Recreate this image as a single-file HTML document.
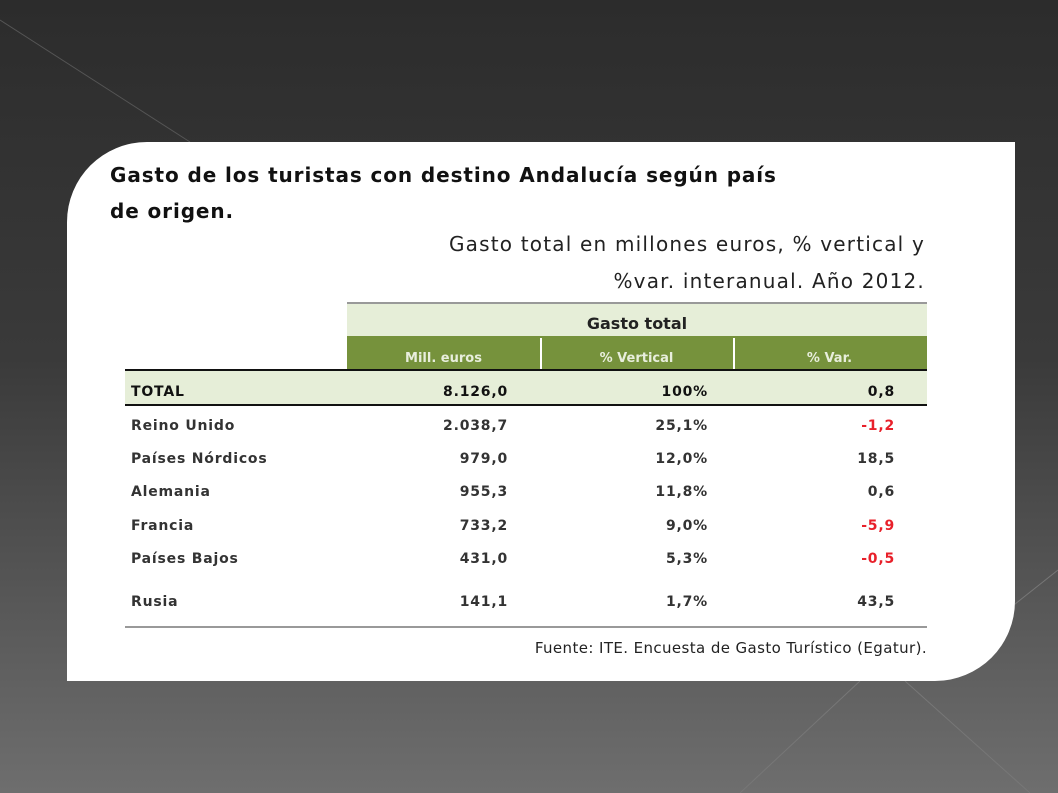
<!DOCTYPE html>
<html><head><meta charset="utf-8"><style>
html,body{margin:0;padding:0}
body{width:1058px;height:793px;overflow:hidden;position:relative;background:linear-gradient(180deg,#2c2c2c 0%,#3a3a3a 45%,#6e6e6e 100%);font-family:"DejaVu Sans","Liberation Sans",sans-serif}
#card{position:absolute;left:67px;top:142px;width:948px;height:539px;background:#fff;border-radius:80px 0 80px 0}
.t{position:absolute;white-space:nowrap}
.h1{font-weight:bold;font-size:20px;color:#111;letter-spacing:0.9px}
.sub{font-size:20px;color:#222;letter-spacing:1.2px;right:0}
.c{position:absolute;font-size:14px;font-weight:bold;color:#333;letter-spacing:0.8px}
</style></head><body>
<svg width="1058" height="793" style="position:absolute;left:0;top:0">
<line x1="0" y1="20" x2="190" y2="142" stroke="#555" stroke-width="1"/>
<line x1="1058" y1="570" x2="1005" y2="612" stroke="#777" stroke-width="1"/>
<line x1="905" y1="681" x2="1030" y2="793" stroke="#777" stroke-width="1"/>
<line x1="860" y1="681" x2="740" y2="793" stroke="#777" stroke-width="1"/>
</svg>
<div id="card"></div>
<div class="t h1" style="left:110px;top:163px">Gasto de los turistas con destino Andalucía según país</div>
<div class="t h1" style="left:110px;top:199px">de origen.</div>
<div class="t sub" style="right:133px;top:232px">Gasto total en millones euros, % vertical y</div>
<div class="t sub" style="right:133px;top:269px">%var. interanual. Año 2012.</div>
<div style="position:absolute;left:347px;top:302px;width:580px;height:34px;background:#e6eed8;border-top:2px solid #999"></div>
<div class="t" style="left:347px;width:580px;top:314px;text-align:center;font-weight:bold;font-size:16px;color:#222">Gasto total</div>
<div style="position:absolute;left:347px;top:336px;width:580px;height:33px;background:#76923c"></div>
<div style="position:absolute;left:540px;top:338px;width:2px;height:31px;background:#fff"></div>
<div style="position:absolute;left:733px;top:338px;width:2px;height:31px;background:#fff"></div>
<div class="t" style="left:347px;width:193px;top:351px;text-align:center;font-weight:bold;font-size:13px;color:#e8eedc">Mill. euros</div>
<div class="t" style="left:540px;width:193px;top:351px;text-align:center;font-weight:bold;font-size:13px;color:#e8eedc">% Vertical</div>
<div class="t" style="left:733px;width:193px;top:351px;text-align:center;font-weight:bold;font-size:13px;color:#e8eedc">% Var.</div>
<div style="position:absolute;left:125px;top:369px;width:802px;height:33px;background:#e6eed8;border-top:2px solid #111;border-bottom:2px solid #111"></div>
<div style="position:absolute;left:125px;top:626px;width:802px;height:2px;background:#999"></div>
<div class="t" style="right:131px;top:639px;font-size:15px;color:#222;letter-spacing:0.4px">Fuente: ITE. Encuesta de Gasto Turístico (Egatur).</div>
<div id="rows"></div>
<script>
const countries=["TOTAL","Reino Unido","Países Nórdicos","Alemania","Francia","Países Bajos","Rusia"];
const millEuros=["8.126,0","2.038,7","979,0","955,3","733,2","431,0","141,1"];
const pctVertical=["100%","25,1%","12,0%","11,8%","9,0%","5,3%","1,7%"];
const pctVar=["0,8","-1,2","18,5","0,6","-5,9","-0,5","43,5"];
const rowTops=[384,418,451,484,518,551,594];
const host=document.getElementById('rows');
function cell(txt,style,name){
  const d=document.createElement('div');
  d.className='c';
  
  
  d.textContent=txt;
  d.style.cssText+=style;
  host.appendChild(d);
}
countries.forEach((c,i)=>{
  const y=rowTops[i];
  const key=c.toLowerCase().replace(/[^a-z]+/g,'-');
  cell(c,`left:131px;top:${y}px;${i===0?'color:#111;font-weight:bold':''}`,'row-label-'+key);
  cell(millEuros[i],`right:550px;top:${y}px;${i===0?'color:#111':''}`,'mill-euros-'+key);
  cell(pctVertical[i],`right:350px;top:${y}px;${i===0?'color:#111':''}`,'pct-vertical-'+key);
  const neg=pctVar[i].startsWith('-');
  cell(pctVar[i],`right:163px;top:${y}px;${neg?'color:#e8202a':(i===0?'color:#111':'')}`,'pct-var-'+key);
});
</script>
</body></html>
